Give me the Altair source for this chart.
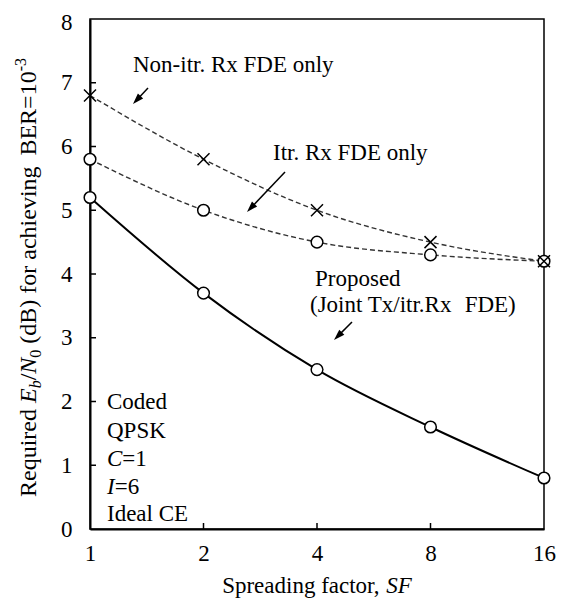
import math
import altair as alt
import pandas as pd

# ---------------- data ----------------
sf = [1, 2, 4, 8, 16]
non_itr = [6.8, 5.8, 5.0, 4.5, 4.2]
itr = [5.8, 5.0, 4.5, 4.3, 4.2]
proposed = [5.2, 3.7, 2.5, 1.6, 0.8]
x_tick_values = [1, 2, 4, 8, 16]
y_tick_values = [0, 1, 2, 3, 4, 5, 6, 7, 8]
x_inner_ticks = [2, 4, 8]
y_inner_ticks = [1, 2, 3, 4, 5, 6, 7]

# ---------------- layout ----------------
LEFT, TOP = 90, 19          # page position of plot area's top-left corner
W, H = 454, 510
FONT = "Liberation Serif"
FS = 23

ROMAN = {' ': 250, '(': 333, ')': 333, '/': 278, '=': 564, '-': 333, '.': 250, ',': 250,
         'A': 722, 'B': 667, 'C': 667, 'D': 722, 'E': 611, 'F': 556, 'I': 333, 'J': 389,
         'K': 722, 'N': 722, 'P': 556, 'Q': 722, 'R': 667, 'S': 556, 'T': 611,
         'a': 444, 'b': 500, 'c': 444, 'd': 500, 'e': 444, 'f': 333, 'g': 500, 'h': 500,
         'i': 278, 'l': 278, 'n': 500, 'o': 500, 'p': 500, 'q': 500, 'r': 333, 's': 389,
         't': 278, 'u': 500, 'v': 500, 'x': 500, 'y': 500}
for d in "0123456789":
    ROMAN[d] = 500
ITALIC = dict(ROMAN)
ITALIC.update({'E': 611, 'N': 667, 'b': 500, 'S': 500, 'F': 611, 'C': 667, 'I': 333})


def tw(s, italic, size):
    tab = ITALIC if italic else ROMAN
    return sum(tab.get(c, 500) for c in s) * size / 1000.0


one = pd.DataFrame({"k": [0]})


def txt(s, sx, sy, italic=False, size=FS, angle=0, dx=0, dy=0):
    """text anchored at page coords (sx, sy)"""
    return alt.Chart(one).mark_text(
        text=s, font=FONT, fontSize=size, fontStyle="italic" if italic else "normal",
        align="left", baseline="alphabetic", angle=angle, dx=dx, dy=dy, color="black"
    ).encode(x=alt.value(sx - LEFT), y=alt.value(sy - TOP))


def seg_text(segs, sx, sy, angle=0):
    """segs: (text, italic, size, shift, gap_before) placed along reading direction"""
    layers = []
    off = 0.0
    for s, it, size, shift, gap in segs:
        off += gap
        if angle == 0:
            layers.append(txt(s, sx + off, sy + shift, it, size))
        else:
            layers.append(txt(s, sx, sy, it, size, angle=angle, dx=off, dy=shift))
        off += tw(s, it, size)
    return layers


def arrow(tail, tip):
    tail = (tail[0] - LEFT, tail[1] - TOP)
    tip = (tip[0] - LEFT, tip[1] - TOP)
    dx, dy = tip[0] - tail[0], tip[1] - tail[1]
    L = math.hypot(dx, dy)
    ux, uy = dx / L, dy / L
    ang = (math.degrees(math.atan2(dx, -dy)) + 360) % 360
    head_len = 11
    cx, cy = tip[0] - ux * head_len / 2, tip[1] - uy * head_len / 2
    line = alt.Chart(one).mark_rule(color="black", strokeWidth=1.5).encode(
        x=alt.value(tail[0]), y=alt.value(tail[1]),
        x2=alt.value(cx), y2=alt.value(cy))
    head = alt.Chart(one).mark_point(
        shape="M0,-1L0.65,1L-0.65,1Z", filled=True, color="black", opacity=1,
        size=head_len ** 2, angle=ang, strokeWidth=0
    ).encode(x=alt.value(cx), y=alt.value(cy))
    return [line, head]


# ---------------- data frames ----------------
df = pd.DataFrame({
    "sf": sf * 3,
    "val": non_itr + itr + proposed,
    "series": ["Non-itr"] * 5 + ["Itr"] * 5 + ["Proposed"] * 5,
})
dashed_df = df[df.series != "Proposed"]
prop_df = df[df.series == "Proposed"]
circ_df = df[df.series != "Non-itr"]
cross_df = df[df.series == "Non-itr"]

xscale = alt.Scale(type="log", base=2, domain=[1, 16], nice=False)
yscale = alt.Scale(domain=[0, 8], nice=False, zero=False)

xaxis = alt.Axis(values=x_tick_values, format="d", title=None, grid=False, ticks=False,
                 tickSize=0, labelFont=FONT, labelFontSize=FS, labelColor="black",
                 labelPadding=13, labelFlush=False, labelOverlap=False,
                 domainColor="black", domainWidth=2)
yaxis = alt.Axis(values=y_tick_values, title=None, grid=False, ticks=False, tickSize=0,
                 labelFont=FONT, labelFontSize=FS, labelColor="black", labelPadding=18,
                 labelFlush=False, labelOverlap=False, domainColor="black", domainWidth=2,
                 labelOffset={"condition": {"test": "datum.value == 8", "value": 3},
                              "value": 0})

X = alt.X("sf:Q", scale=xscale, axis=xaxis)
Y = alt.Y("val:Q", scale=yscale, axis=yaxis)

dashed = alt.Chart(dashed_df).mark_line(
    color="#333333", strokeWidth=1.4, strokeDash=[5, 3], interpolate="monotone"
).encode(x=X, y=Y, detail="series:N")

solid = alt.Chart(prop_df).mark_line(
    color="black", strokeWidth=2, interpolate="monotone"
).encode(x=X, y=Y)

circles = alt.Chart(circ_df).mark_point(
    shape="circle", filled=True, fill="white", stroke="black", strokeWidth=1.5,
    size=135, opacity=1
).encode(x=X, y=Y)

crosses = alt.Chart(cross_df).mark_point(
    shape="M-1,-1L1,1M1,-1L-1,1", filled=False, color="black", strokeWidth=1.5,
    size=144, opacity=1
).encode(x=X, y=Y)

xt_df = pd.DataFrame({"sf": x_inner_ticks})
yt_df = pd.DataFrame({"val": y_inner_ticks})
xticks = alt.Chart(xt_df).mark_rule(color="black", strokeWidth=1.5).encode(
    x=X, y=alt.value(H), y2=alt.value(H - 6))
yticks = alt.Chart(yt_df).mark_rule(color="black", strokeWidth=1.5).encode(
    y=Y, x=alt.value(0), x2=alt.value(6))

# ---------------- annotations (page coordinates) ----------------
ann = []
ann.append(txt("Non-itr. Rx FDE only", 133, 72))
ann += arrow((148, 88), (133, 104))
ann.append(txt("Itr. Rx FDE only", 273, 160))
ann += arrow((285, 172), (247, 212))
ann.append(txt("Proposed", 315, 286))
ann += seg_text([("(Joint Tx/itr.Rx", False, FS, 0, 0),
                 ("FDE)", False, FS, 0, tw("  ", False, FS))], 310, 312)
ann += arrow((352, 322), (334, 340))

# bottom-left block
ann.append(txt("Coded", 107, 409))
ann.append(txt("QPSK", 107, 438))
ann += seg_text([("C", True, FS, 0, 0), ("=1", False, FS, 0, 0)], 107, 466)
ann += seg_text([("I", True, FS, 0, 0), ("=6", False, FS, 0, 0)], 107, 494)
ann.append(txt("Ideal CE", 107, 521))

# y-axis title (rotated, with italic + sub/superscripts)
TS = 24
SS = 16
ytitle = [
    ("Required", False, TS, 0, 0),
    ("E", True, TS, 0, tw(" ", False, TS)),
    ("b", True, SS, 5, 0),
    ("/", False, TS, 0, 0),
    ("N", True, TS, 0, 0),
    ("0", False, SS, 5, 0),
    ("(dB) for achieving", False, TS, 0, tw(" ", False, TS)),
    ("BER=10", False, TS, 0, tw(" ", False, TS) * 1.8),
    ("-3", False, SS, -10, 0),
]
ann += seg_text(ytitle, 36, 497, angle=270)

# x-axis title
xt_segs = [("Spreading factor,", False, FS, 0, 0), ("SF", True, FS, 0, tw(" ", False, FS))]
xt_total = sum(tw(s, it, sz) + g for s, it, sz, _, g in xt_segs)
ann += seg_text(xt_segs, LEFT + W / 2 - xt_total / 2, 593)

chart = alt.layer(dashed, solid, circles, crosses, xticks, yticks, *ann).properties(
    width=W, height=H,
    padding={"left": LEFT - 8, "top": TOP - 8, "right": 12, "bottom": 591 - (TOP - 8) - H},
    autosize=alt.AutoSizeParams(type="none"),
    background="white",
).configure_view(stroke="black", strokeWidth=1.5)

chart.save("out.html", embed_options={"renderer": "svg", "actions": False})
